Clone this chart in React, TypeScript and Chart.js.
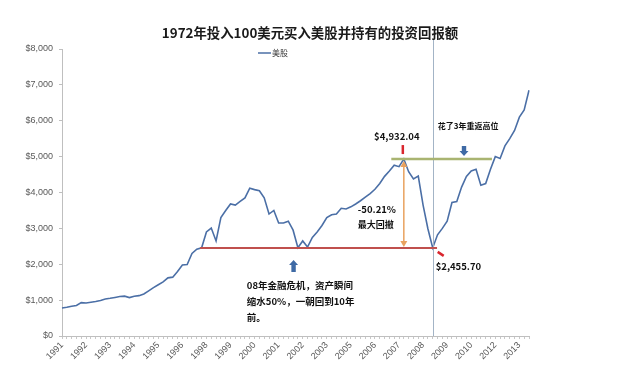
import React, { useEffect, useRef } from 'react';
import { Chart, registerables } from 'chart.js';

Chart.register(...registerables);

const titleText = '1972年投入100美元买入美股并持有的投资回报额';
const seriesName = '美股';
const yearLabels = ['1991', '1992', '1993', '1994', '1995', '1996', '1998', '1999', '2000', '2001', '2002', '2003', '2005', '2006', '2007', '2008', '2009', '2010', '2012', '2013'];
const pointsPerLabel = 5;
const values = [
  780, 800, 830, 850, 930, 920, 940, 960, 990, 1030,
  1050, 1075, 1100, 1110, 1070, 1110, 1125, 1170, 1260, 1350,
  1430, 1510, 1620, 1640, 1800, 1980, 1990, 2300, 2420, 2460,
  2900, 3010, 2650, 3300, 3500, 3680, 3650, 3750, 3850, 4120,
  4080, 4050, 3850, 3400, 3500, 3150, 3150, 3200, 2950, 2460,
  2650, 2480, 2750, 2900, 3080, 3300, 3380, 3400, 3560, 3540,
  3600, 3680, 3770, 3870, 3970, 4090, 4250, 4450, 4600, 4760,
  4720, 4932.04, 4580, 4380, 4460, 3650, 2990, 2455.7, 2820, 3000,
  3200, 3720, 3750, 4150, 4450, 4600, 4650, 4200, 4250, 4650,
  5000, 4950, 5300, 5500, 5730, 6100, 6300, 6850,
];
const yMin = 0;
const yMax = 8000;
const yStep = 1000;
const peakIndex = 71;
const troughIndex = 77;
const peakValue = 4932.04;
const troughValue = 2455.7;
const drawdownLabel = '-50.21%';
const drawdownText = '最大回撤';
const recoverText = '花了3年重返高位';
const crisisText = ['08年金融危机，资产瞬间', '缩水50%，一朝回到10年', '前。'];
const peakLabel = '$4,932.04';
const troughLabel = '$2,455.70';

const categories = values.map((_, i) => (i % pointsPerLabel === 0 ? yearLabels[i / pointsPerLabel] ?? '' : ''));

const CJK = '"Noto Sans CJK SC", "Noto Sans", sans-serif';
const LINE_BLUE = '#4b6fa6';

function blockArrow(ctx: CanvasRenderingContext2D, x: number, yTail: number, yHead: number, color: string) {
  const dir = yHead > yTail ? 1 : -1;
  const headLen = 5;
  const sw = 2.2;
  const hw = 4.5;
  ctx.save();
  ctx.fillStyle = color;
  ctx.beginPath();
  ctx.moveTo(x - sw, yTail);
  ctx.lineTo(x + sw, yTail);
  ctx.lineTo(x + sw, yHead - dir * headLen);
  ctx.lineTo(x + hw, yHead - dir * headLen);
  ctx.lineTo(x, yHead);
  ctx.lineTo(x - hw, yHead - dir * headLen);
  ctx.lineTo(x - sw, yHead - dir * headLen);
  ctx.closePath();
  ctx.fill();
  ctx.restore();
}

const annotationPlugin = {
  id: 'annotations',
  afterDatasetsDraw(chart: any) {
    const ctx: CanvasRenderingContext2D = chart.ctx;
    const xs = chart.scales.x;
    const ys = chart.scales.y;
    const area = chart.chartArea;
    const px = (i: number) => xs.getPixelForValue(i);
    const py = (v: number) => ys.getPixelForValue(v);

    ctx.save();
    // title
    ctx.fillStyle = '#1a1a1a';
    ctx.font = `bold 13.4px ${CJK}`;
    ctx.textAlign = 'center';
    ctx.textBaseline = 'middle';
    ctx.fillText(titleText, 310, 33);

    // legend
    ctx.strokeStyle = LINE_BLUE;
    ctx.lineWidth = 1.5;
    ctx.beginPath();
    ctx.moveTo(258, 53);
    ctx.lineTo(271, 53);
    ctx.stroke();
    ctx.fillStyle = '#404040';
    ctx.font = `8px ${CJK}`;
    ctx.textAlign = 'left';
    ctx.fillText(seriesName, 272, 53);

    // vertical line at trough
    const xt = px(troughIndex);
    ctx.strokeStyle = '#a3b4c6';
    ctx.lineWidth = 1;
    ctx.beginPath();
    ctx.moveTo(Math.round(xt) + 0.5, area.top - 9);
    ctx.lineTo(Math.round(xt) + 0.5, area.bottom);
    ctx.stroke();

    // red horizontal line at trough value
    const yT = py(troughValue);
    ctx.strokeStyle = '#c0504d';
    ctx.lineWidth = 2;
    ctx.beginPath();
    ctx.moveTo(px(28.7), yT);
    ctx.lineTo(px(77.9), yT);
    ctx.stroke();

    // green horizontal line at peak value
    const yP = py(peakValue);
    ctx.strokeStyle = '#a9b471';
    ctx.lineWidth = 2.5;
    ctx.beginPath();
    ctx.moveTo(px(68.4), yP);
    ctx.lineTo(px(89.3), yP);
    ctx.stroke();

    // orange double arrow
    const xp = px(peakIndex);
    ctx.strokeStyle = '#e9a25f';
    ctx.fillStyle = '#e9a25f';
    ctx.lineWidth = 1.5;
    ctx.beginPath();
    ctx.moveTo(xp, yP + 5);
    ctx.lineTo(xp, yT - 3);
    ctx.stroke();
    ctx.beginPath();
    ctx.moveTo(xp, yP + 2);
    ctx.lineTo(xp - 3.5, yP + 8);
    ctx.lineTo(xp + 3.5, yP + 8);
    ctx.closePath();
    ctx.fill();
    ctx.beginPath();
    ctx.moveTo(xp, yT - 1);
    ctx.lineTo(xp - 3.5, yT - 7);
    ctx.lineTo(xp + 3.5, yT - 7);
    ctx.closePath();
    ctx.fill();

    // red marks
    ctx.strokeStyle = '#d9262e';
    ctx.lineWidth = 2.5;
    ctx.beginPath();
    ctx.moveTo(xp - 1, yP - 14);
    ctx.lineTo(xp - 1, yP - 5);
    ctx.stroke();
    ctx.beginPath();
    ctx.moveTo(xt + 5, yT + 4);
    ctx.lineTo(xt + 11, yT + 8);
    ctx.stroke();

    // blue block arrows
    blockArrow(ctx, px(48.1), yT + 24, yT + 12, '#3f6aa5');
    blockArrow(ctx, px(83.5), yP - 13, yP - 3, '#3f6aa5');

    // texts
    ctx.fillStyle = '#111111';
    ctx.font = `bold 9.5px ${CJK}`;
    ctx.textBaseline = 'middle';
    ctx.textAlign = 'center';
    ctx.fillText(peakLabel, xp - 7, yP - 23);
    ctx.textAlign = 'left';
    ctx.fillText(drawdownLabel, xp - 46, yP + 50);
    ctx.font = `bold 9px ${CJK}`;
    ctx.fillText(drawdownText, xp - 46, yP + 66);
    ctx.font = `bold 9.5px ${CJK}`;
    ctx.fillText(troughLabel, xt + 3, yT + 18);
    crisisText.forEach((t, k) => ctx.fillText(t, px(38.4), yT + 37 + k * 16));
    ctx.font = `bold 8px ${CJK}`;
    ctx.fillText(recoverText, xt + 5, yP - 33);
    ctx.restore();
  },
};

export default function App() {
  const canvasRef = useRef<HTMLCanvasElement | null>(null);

  useEffect(() => {
    document.body.style.margin = '0';
    const canvas = canvasRef.current;
    if (!canvas) return;
    const chart = new Chart(canvas, {
      type: 'line',
      data: {
        labels: categories,
        datasets: [
          {
            label: seriesName,
            data: values,
            borderColor: LINE_BLUE,
            borderWidth: 1.6,
            pointRadius: 0,
            tension: 0,
            fill: false,
          },
        ],
      },
      options: {
        animation: false,
        responsive: false,
        maintainAspectRatio: false,
        events: [],
        layout: { padding: { top: 49, right: 89, left: 0, bottom: 0 } },
        plugins: {
          legend: { display: false },
          title: { display: false },
          tooltip: { enabled: false },
        },
        scales: {
          x: {
            type: 'category',
            offset: false,
            grid: { drawOnChartArea: false, drawTicks: true, tickLength: 3, color: '#c8c8c8' },
            border: { color: '#bfbfbf' },
            ticks: {
              autoSkip: false,
              maxRotation: 45,
              minRotation: 45,
              padding: 1,
              color: '#595959',
              font: { family: '"Liberation Sans", Arial, sans-serif', size: 9 },
            },
            afterFit: (scale: any) => {
              scale.height = 52;
            },
          },
          y: {
            min: yMin,
            max: yMax,
            grid: { drawOnChartArea: false, drawTicks: true, tickLength: 3, color: '#bfbfbf' },
            border: { color: '#bfbfbf' },
            ticks: {
              stepSize: yStep,
              padding: 6,
              color: '#595959',
              font: { family: '"Liberation Sans", Arial, sans-serif', size: 9 },
              callback: (v: any) => '$' + Number(v).toLocaleString('en-US'),
            },
            afterFit: (scale: any) => {
              scale.width = 62;
            },
          },
        },
      },
      plugins: [annotationPlugin],
    });
    return () => chart.destroy();
  }, []);

  return (
    <div style={{ position: 'absolute', left: 0, top: 0, width: 618, height: 388, background: '#ffffff' }}>
      <canvas ref={canvasRef} width={618} height={388} style={{ width: 618, height: 388, display: 'block' }} />
    </div>
  );
}
